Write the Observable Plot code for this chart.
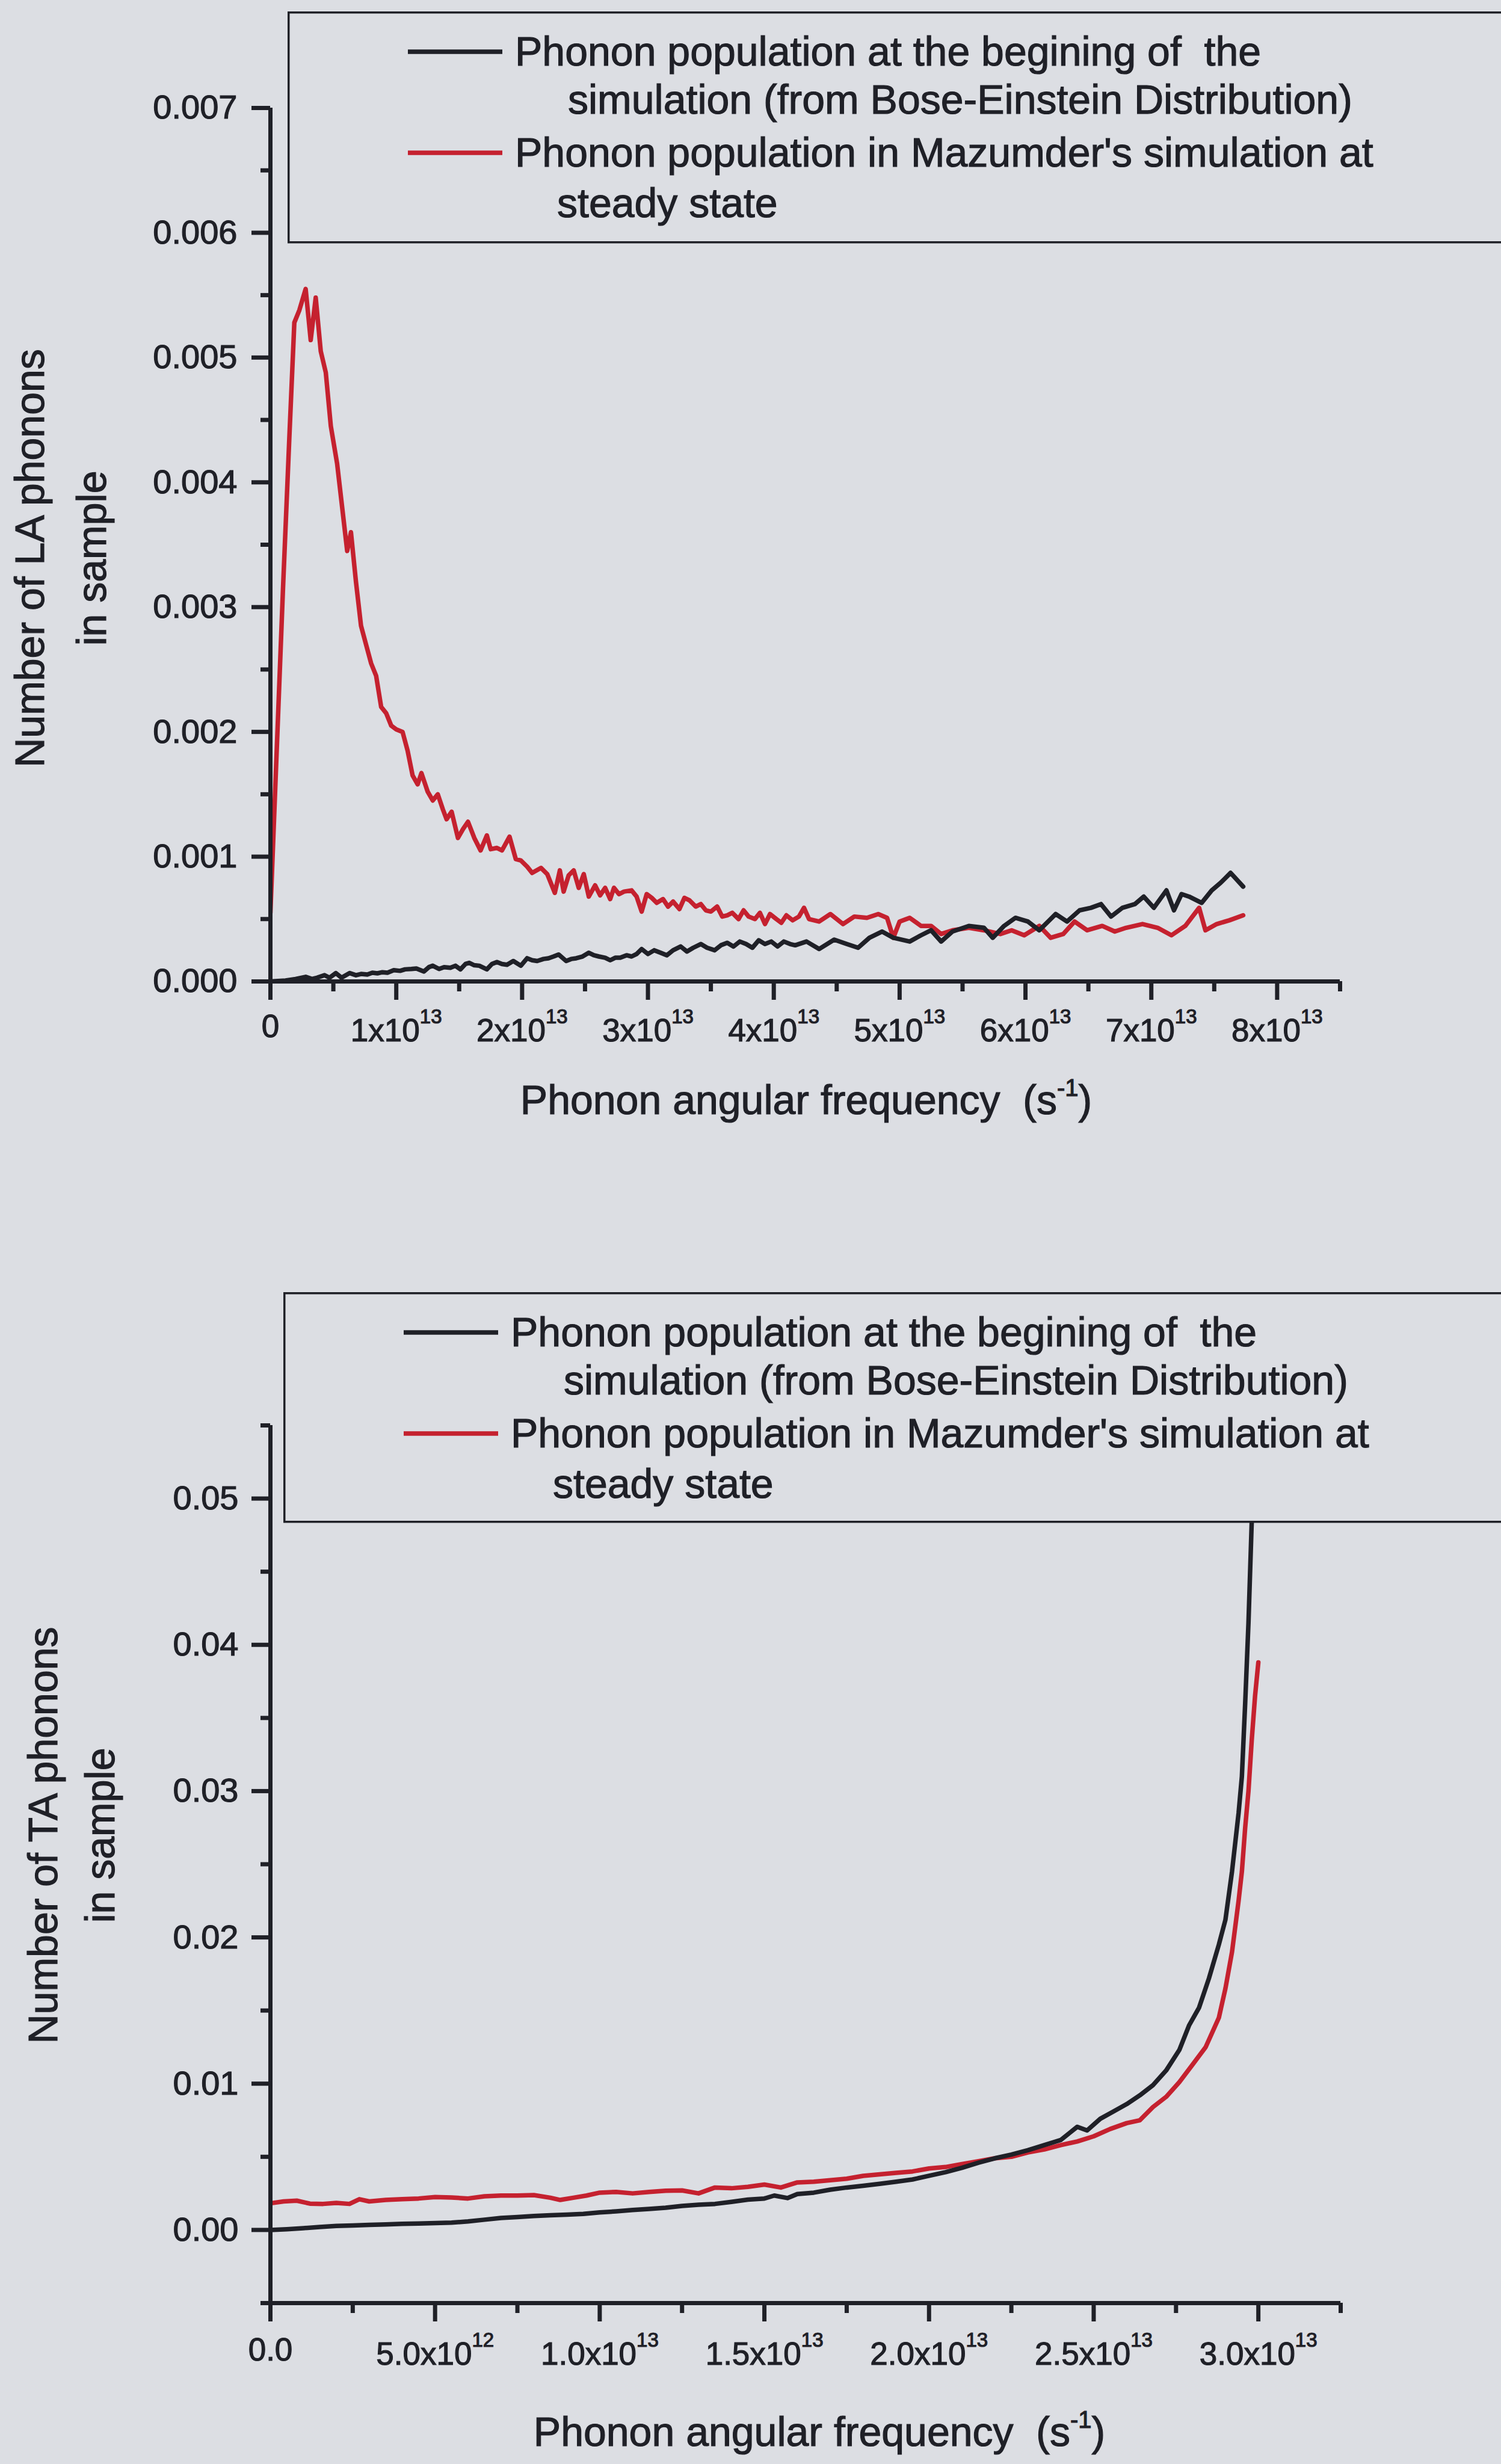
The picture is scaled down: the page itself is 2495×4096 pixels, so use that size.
<!DOCTYPE html>
<html>
<head>
<meta charset="utf-8">
<script src="https://cdn.jsdelivr.net/npm/d3@7"></script>
<script src="https://cdn.jsdelivr.net/npm/@observablehq/plot@0.6"></script>
<style>
  html, body { margin: 0; padding: 0; background: #dcdee3; }
  #page { position: relative; width: 2495px; height: 4096px; overflow: hidden; background: #dcdee3; }
  .chart, .legend { position: absolute; left: 0; }
  #page text { stroke: #1f2027; stroke-width: 1.2px; }
</style>
</head>
<body>
<div id="page"></div>
<script>
// ---- LA phonons: [angular frequency (×1e13 s^-1), count (×1e-3)] ----
const laInitial = [
  [0,0],[0.12,0.007],[0.20,0.02],[0.28,0.037],[0.33,0.02],[0.37,0.03],[0.43,0.05],[0.47,0.03],
  [0.52,0.067],[0.565,0.03],[0.63,0.067],[0.68,0.05],[0.72,0.06],[0.77,0.055],[0.81,0.07],[0.85,0.065],
  [0.89,0.074],[0.93,0.07],[0.98,0.09],[1.03,0.085],[1.07,0.097],[1.12,0.10],[1.16,0.104],[1.22,0.08],
  [1.26,0.115],[1.29,0.126],[1.34,0.10],[1.38,0.115],[1.43,0.11],[1.47,0.126],[1.51,0.097],[1.55,0.14],
  [1.58,0.149],[1.62,0.13],[1.66,0.126],[1.72,0.097],[1.76,0.14],[1.80,0.156],[1.84,0.14],[1.88,0.134],
  [1.93,0.164],[1.99,0.126],[2.04,0.186],[2.08,0.17],[2.12,0.164],[2.17,0.18],[2.21,0.186],[2.25,0.20],
  [2.29,0.216],[2.35,0.164],[2.39,0.18],[2.43,0.186],[2.48,0.20],[2.53,0.23],[2.57,0.21],[2.61,0.20],
  [2.66,0.19],[2.70,0.17],[2.74,0.19],[2.78,0.19],[2.83,0.21],[2.87,0.20],[2.91,0.22],[2.95,0.26],
  [3.00,0.22],[3.05,0.25],[3.10,0.23],[3.15,0.21],[3.20,0.25],[3.26,0.28],[3.31,0.24],[3.36,0.27],
  [3.42,0.30],[3.47,0.27],[3.53,0.25],[3.58,0.29],[3.63,0.31],[3.68,0.28],[3.73,0.32],[3.78,0.30],
  [3.83,0.27],[3.88,0.33],[3.93,0.30],[3.98,0.32],[4.03,0.28],[4.08,0.32],[4.13,0.30],[4.17,0.29],
  [4.26,0.32],[4.36,0.26],[4.48,0.335],[4.58,0.30],[4.67,0.27],[4.76,0.35],[4.86,0.40],[4.95,0.35],
  [5.08,0.32],[5.17,0.37],[5.25,0.41],[5.33,0.32],[5.42,0.40],[5.55,0.445],[5.67,0.43],[5.74,0.35],
  [5.83,0.445],[5.92,0.51],[6.02,0.48],[6.11,0.41],[6.24,0.54],[6.33,0.48],[6.43,0.57],[6.52,0.59],
  [6.60,0.62],[6.68,0.52],[6.77,0.59],[6.87,0.62],[6.94,0.68],[7.02,0.59],[7.12,0.73],[7.18,0.57],
  [7.24,0.70],[7.30,0.68],[7.40,0.63],[7.48,0.73],[7.55,0.79],[7.63,0.87],[7.73,0.76]
];
const laSteady = [
  [0,0.55],[0.05,1.85],[0.10,3.15],[0.15,4.35],[0.19,5.28],[0.23,5.38],[0.28,5.55],[0.32,5.14],
  [0.36,5.48],[0.40,5.05],[0.44,4.88],[0.48,4.45],[0.53,4.15],[0.57,3.80],[0.61,3.45],[0.64,3.60],
  [0.68,3.20],[0.72,2.85],[0.76,2.70],[0.80,2.55],[0.84,2.45],[0.88,2.20],[0.92,2.15],[0.96,2.05],
  [1.00,2.02],[1.05,2.00],[1.09,1.85],[1.13,1.65],[1.17,1.58],[1.20,1.67],[1.25,1.52],[1.29,1.45],
  [1.33,1.50],[1.37,1.38],[1.40,1.30],[1.44,1.36],[1.49,1.15],[1.53,1.22],[1.57,1.28],[1.62,1.15],
  [1.67,1.05],[1.72,1.17],[1.75,1.06],[1.80,1.07],[1.84,1.05],[1.90,1.16],[1.95,0.98],[1.99,0.97],
  [2.04,0.92],[2.08,0.87],[2.15,0.91],[2.20,0.86],[2.26,0.71],[2.30,0.89],[2.33,0.72],[2.37,0.85],
  [2.41,0.89],[2.45,0.75],[2.49,0.86],[2.53,0.68],[2.58,0.77],[2.62,0.69],[2.66,0.75],[2.70,0.66],
  [2.73,0.75],[2.77,0.70],[2.81,0.72],[2.87,0.73],[2.91,0.68],[2.95,0.56],[2.99,0.70],[3.03,0.67],
  [3.07,0.63],[3.12,0.66],[3.16,0.60],[3.20,0.64],[3.25,0.58],[3.29,0.67],[3.33,0.65],[3.38,0.60],
  [3.42,0.62],[3.46,0.57],[3.50,0.56],[3.55,0.60],[3.59,0.52],[3.63,0.53],[3.67,0.55],[3.72,0.50],
  [3.76,0.57],[3.80,0.52],[3.85,0.50],[3.89,0.55],[3.93,0.46],[3.97,0.54],[4.02,0.50],[4.06,0.47],
  [4.10,0.53],[4.15,0.49],[4.20,0.52],[4.24,0.59],[4.28,0.50],[4.36,0.48],[4.45,0.54],[4.55,0.46],
  [4.64,0.52],[4.74,0.51],[4.83,0.54],[4.90,0.51],[4.95,0.35],[5.00,0.48],[5.08,0.51],[5.17,0.445],
  [5.25,0.445],[5.33,0.38],[5.42,0.41],[5.55,0.43],[5.67,0.41],[5.80,0.38],[5.89,0.41],[5.99,0.37],
  [6.11,0.445],[6.20,0.35],[6.30,0.38],[6.39,0.48],[6.49,0.41],[6.61,0.445],[6.71,0.40],[6.80,0.43],
  [6.93,0.46],[7.05,0.43],[7.16,0.37],[7.27,0.445],[7.38,0.59],[7.43,0.41],[7.52,0.46],[7.62,0.49],
  [7.73,0.53]
];

// ---- TA phonons: [angular frequency (×1e13 s^-1), count (×1e-3)] ----
const taInitial = [
  [0,0],[0.05,0.05],[0.10,0.12],[0.15,0.20],[0.20,0.27],[0.25,0.30],[0.30,0.35],[0.35,0.38],
  [0.40,0.42],[0.45,0.44],[0.50,0.47],[0.55,0.50],[0.60,0.58],[0.65,0.70],[0.70,0.82],[0.75,0.88],
  [0.80,0.95],[0.85,1.00],[0.90,1.05],[0.95,1.10],[1.00,1.20],[1.05,1.27],[1.10,1.36],[1.15,1.44],
  [1.20,1.52],[1.25,1.64],[1.30,1.72],[1.35,1.78],[1.40,1.92],[1.45,2.07],[1.50,2.15],[1.53,2.35],
  [1.57,2.18],[1.60,2.45],[1.65,2.55],[1.70,2.75],[1.75,2.90],[1.80,3.02],[1.85,3.15],[1.90,3.30],
  [1.95,3.45],[2.00,3.70],[2.05,3.95],[2.10,4.25],[2.15,4.60],[2.20,4.90],[2.25,5.15],[2.30,5.45],
  [2.35,5.80],[2.40,6.15],[2.45,7.05],[2.48,6.80],[2.52,7.60],[2.56,8.10],[2.60,8.60],[2.64,9.20],
  [2.68,9.90],[2.72,10.9],[2.76,12.3],[2.79,14.0],[2.82,15.2],[2.85,17.2],[2.88,19.5],[2.90,21.2],
  [2.92,24.5],[2.94,28.5],[2.95,31.0],[2.96,36.0],[2.97,41.5],[2.98,48.5],[2.99,58.0]
];
const taSteady = [
  [0,1.82],[0.04,1.95],[0.08,2.00],[0.12,1.80],[0.16,1.78],[0.20,1.85],[0.24,1.78],[0.27,2.10],
  [0.30,1.95],[0.35,2.05],[0.40,2.10],[0.45,2.15],[0.50,2.25],[0.55,2.22],[0.60,2.15],[0.65,2.30],
  [0.70,2.35],[0.75,2.35],[0.80,2.38],[0.85,2.20],[0.88,2.05],[0.92,2.20],[0.96,2.35],[1.00,2.55],
  [1.05,2.60],[1.10,2.50],[1.15,2.60],[1.20,2.68],[1.25,2.70],[1.30,2.50],[1.35,2.90],[1.40,2.85],
  [1.45,2.95],[1.50,3.10],[1.55,2.90],[1.60,3.25],[1.65,3.30],[1.70,3.40],[1.75,3.50],[1.80,3.70],
  [1.85,3.80],[1.90,3.90],[1.95,4.00],[2.00,4.20],[2.05,4.30],[2.10,4.50],[2.15,4.70],[2.20,4.90],
  [2.25,5.00],[2.30,5.30],[2.35,5.50],[2.40,5.80],[2.45,6.05],[2.50,6.40],[2.55,6.90],[2.60,7.30],
  [2.64,7.50],[2.68,8.40],[2.72,9.10],[2.76,10.1],[2.80,11.3],[2.84,12.5],[2.88,14.5],[2.90,16.5],
  [2.92,19.0],[2.94,22.5],[2.95,24.5],[2.96,27.5],[2.97,30.0],[2.98,33.5],[2.99,36.5],[3.00,38.8]
];

// ---- axis ticks and labels ----
const laXTicks = [0, 1e13, 2e13, 3e13, 4e13, 5e13, 6e13, 7e13, 8e13];
const laXLabels = ["0", "1x10^13", "2x10^13", "3x10^13", "4x10^13", "5x10^13", "6x10^13", "7x10^13", "8x10^13"];
const laXMinor = [0.5e13, 1.5e13, 2.5e13, 3.5e13, 4.5e13, 5.5e13, 6.5e13, 7.5e13, 8.5e13];
const laYTicks = [0, 0.001, 0.002, 0.003, 0.004, 0.005, 0.006, 0.007];
const laYLabels = ["0.000", "0.001", "0.002", "0.003", "0.004", "0.005", "0.006", "0.007"];
const laYMinor = [0.0005, 0.0015, 0.0025, 0.0035, 0.0045, 0.0055, 0.0065];

const taXTicks = [0, 5e12, 1e13, 1.5e13, 2e13, 2.5e13, 3e13];
const taXLabels = ["0.0", "5.0x10^12", "1.0x10^13", "1.5x10^13", "2.0x10^13", "2.5x10^13", "3.0x10^13"];
const taXMinor = [2.5e12, 7.5e12, 1.25e13, 1.75e13, 2.25e13, 2.75e13, 3.25e13];
const taYTicks = [0, 0.01, 0.02, 0.03, 0.04, 0.05];
const taYLabels = ["0.00", "0.01", "0.02", "0.03", "0.04", "0.05"];
const taYMinor = [-0.005, 0.005, 0.015, 0.025, 0.035, 0.045, 0.055];

const seriesLabels = [
  ["Phonon population at the begining of  the", "simulation (from Bose-Einstein Distribution)"],
  ["Phonon population in Mazumder's simulation at", "steady state"]
];

// ---- styling ----
const W = 2495;
const BG = "#dcdee3";
const INK = "#1f2027";
const RED = "#c5212f";
const FONT = '"Liberation Sans", Arial, Helvetica, sans-serif';
const LINE_W = 7.5;
const AXIS_W = 7;
const page = document.getElementById("page");

const toPoints = rows => rows.map(([w, n]) => ({omega: w * 1e13, count: n * 1e-3}));

function labelMap(ticks, labels) {
  const m = new Map(ticks.map((t, i) => [t, labels[i]]));
  return d => m.get(d) ?? "";
}

// Turn "1x10^13" tick labels into a base plus a raised exponent.
function superscriptTicks(svg, rise, supSize, plainLift) {
  svg.querySelectorAll('g[aria-label="x-axis tick label"] text').forEach(t => {
    const s = t.textContent;
    if (!s) return;
    t.textContent = "";
    const [base, exp] = s.split("^");
    const a = document.createElementNS("http://www.w3.org/2000/svg", "tspan");
    a.textContent = base;
    t.appendChild(a);
    if (exp) {
      const b = document.createElementNS("http://www.w3.org/2000/svg", "tspan");
      b.textContent = exp;
      b.setAttribute("dy", -rise);
      b.setAttribute("font-size", supSize);
      t.appendChild(b);
    } else {
      a.setAttribute("dy", -plainLift);
    }
  });
}

function xTitle(svg, cx, baseline) {
  const t = d3.select(svg).append("text")
    .attr("x", cx).attr("y", baseline)
    .attr("text-anchor", "middle")
    .attr("font-family", FONT).attr("font-size", 68).attr("fill", INK)
    .style("white-space", "pre");
  t.append("tspan").text("Phonon angular frequency  (s");
  t.append("tspan").attr("font-size", 40).attr("dy", -30).text("-1");
  t.append("tspan").attr("dy", 30).text(")");
}

function yTitle(svg, lines, xs, cy) {
  lines.forEach((line, i) => {
    d3.select(svg).append("text")
      .attr("transform", `translate(${xs[i]},${cy}) rotate(-90)`)
      .attr("text-anchor", "middle")
      .attr("font-family", FONT).attr("font-size", 68).attr("fill", INK)
      .text(line);
  });
}

function legend(left, top, h) {
  const w = W - left + 40;
  const svg = d3.select(page).append("svg")
    .attr("class", "legend")
    .style("left", left + "px").style("top", top + "px")
    .attr("width", w).attr("height", h + 4);
  svg.append("rect")
    .attr("x", 1.75).attr("y", 1.75).attr("width", w).attr("height", h)
    .attr("fill", BG).attr("stroke", INK).attr("stroke-width", 3.5);
  const colors = [INK, RED];
  const swatchY = [67, 235];
  const baselines = [[90, 170], [258, 342]];
  const indents = [[378, 466], [378, 448]];
  seriesLabels.forEach((lines, i) => {
    svg.append("line")
      .attr("x1", 200).attr("x2", 357).attr("y1", swatchY[i]).attr("y2", swatchY[i])
      .attr("stroke", colors[i]).attr("stroke-width", LINE_W);
    lines.forEach((line, j) => {
      svg.append("text")
        .attr("x", indents[i][j]).attr("y", baselines[i][j])
        .attr("font-family", FONT).attr("font-size", 68).attr("fill", INK)
        .style("white-space", "pre")
        .text(line);
    });
  });
}

function chart({height, top, marginTop, marginBottom, marginRight, xDomain, yDomain,
                xTicks, xLabels, xMinor, yTicks, yLabels, yMinor, initial, steady, xPad, yPad}) {
  const svg = Plot.plot({
    width: W, height,
    marginLeft: 449, marginRight, marginTop, marginBottom,
    style: {background: "none", fontFamily: FONT, fontSize: "56px", color: INK, overflow: "visible"},
    x: {type: "linear", domain: xDomain},
    y: {type: "linear", domain: yDomain},
    marks: [
      Plot.line(toPoints(steady), {x: "omega", y: "count", stroke: RED, strokeWidth: LINE_W, clip: true}),
      Plot.line(toPoints(initial), {x: "omega", y: "count", stroke: INK, strokeWidth: LINE_W, clip: true}),
      Plot.axisX(xMinor, {tickSize: 17, strokeWidth: AXIS_W, tickFormat: () => "", label: null}),
      Plot.axisX(xTicks, {tickSize: 31, tickPadding: xPad, strokeWidth: AXIS_W, fontSize: 53,
                          tickFormat: labelMap(xTicks, xLabels), label: null}),
      Plot.axisY(yMinor, {tickSize: 16, strokeWidth: AXIS_W, tickFormat: () => "", label: null}),
      Plot.axisY(yTicks, {tickSize: 31, tickPadding: yPad, strokeWidth: AXIS_W, fontSize: 56,
                          tickFormat: labelMap(yTicks, yLabels), label: null}),
      Plot.ruleX([xDomain[0]], {stroke: INK, strokeWidth: AXIS_W}),
      Plot.ruleY([yDomain[0]], {stroke: INK, strokeWidth: AXIS_W})
    ]
  });
  svg.setAttribute("class", "chart");
  svg.style.top = top + "px";
  superscriptTicks(svg, 30, 33, 7);
  page.appendChild(svg);
  return svg;
}

// LA panel
const la = chart({
  height: 1900, top: 0, marginTop: 179, marginBottom: 269, marginRight: 268,
  xDomain: [0, 8.5e13], yDomain: [0, 0.007],
  xTicks: laXTicks, xLabels: laXLabels, xMinor: laXMinor,
  yTicks: laYTicks, yLabels: laYLabels, yMinor: laYMinor,
  initial: laInitial, steady: laSteady, xPad: 31, yPad: 24
});
xTitle(la, 1340, 1852);
yTitle(la, ["Number of LA phonons", "in sample"], [73, 176], 928);

// TA panel
const taTop = 2100;
const ta = chart({
  height: 1996, top: taTop, marginTop: 269, marginBottom: 268, marginRight: 267,
  xDomain: [0, 3.25e13], yDomain: [-0.005, 0.055],
  xTicks: taXTicks, xLabels: taXLabels, xMinor: taXMinor,
  yTicks: taYTicks, yLabels: taYLabels, yMinor: taYMinor,
  initial: taInitial, steady: taSteady, xPad: 34, yPad: 22
});
xTitle(ta, 1362, 1966);
yTitle(ta, ["Number of TA phonons", "in sample"], [95, 190], 951);

// legends over each panel
legend(478, 19, 382);
legend(471, 2148, 380);
</script>
</body>
</html>
